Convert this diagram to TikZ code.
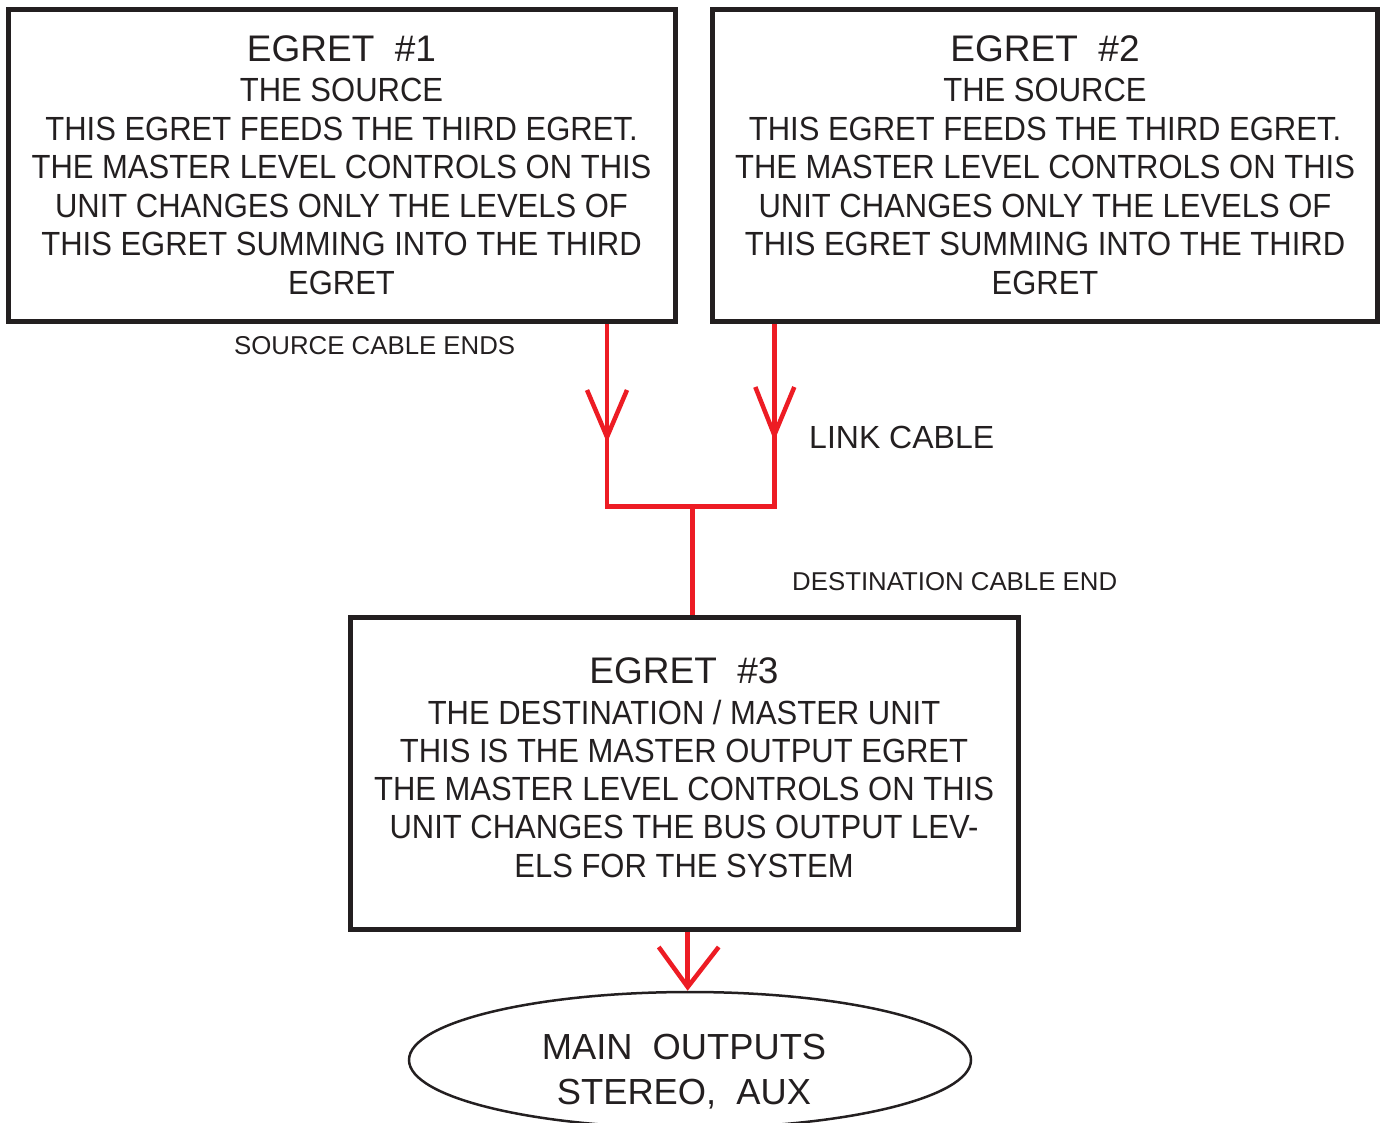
\documentclass[tikz,border=0pt]{standalone}
\usepackage{fontspec}
\setmainfont{Liberation Sans}
\newfontfamily\bodyf[FakeStretch=0.925]{Liberation Sans}
\usetikzlibrary{shapes.geometric,calc}
\definecolor{ink}{HTML}{231F20}
\definecolor{egred}{HTML}{ED1C24}
\begin{document}
\begin{tikzpicture}[x=1pt,y=-1pt,
  boxstyle/.style={draw=ink, line width=5pt, rectangle, inner sep=0pt, minimum width=#1, minimum height=312pt},
  redline/.style={draw=egred, line width=4.5pt, line join=miter},
  titletext/.style={font=\fontsize{37}{40}\selectfont, text=ink, inner sep=0pt, anchor=base},
  bodytext/.style={font=\bodyf\fontsize{33.5}{38}\selectfont, text=ink, inner sep=0pt, anchor=base},
  labeltext/.style={font=\fontsize{25.8}{28}\selectfont, text=ink, inner sep=0pt, anchor=base west},
  linktext/.style={font=\fontsize{32}{36}\selectfont, text=ink, inner sep=0pt, anchor=base west},
  outtext/.style={font=\fontsize{36.3}{40}\selectfont, text=ink, inner sep=0pt, anchor=base},
  ellstyle/.style={draw=ink, line width=2.5pt, ellipse, inner sep=0pt, minimum width=562pt, minimum height=136pt}
]
\useasboundingbox (0,0) rectangle (1383,1123);
\clip (0,0) rectangle (1383,1123);

% boxes
\node[boxstyle=666.5pt] (b1) at (341.75,165.5) {};
\node[boxstyle=665pt] (b2) at (1044.5,165.5) {};
\node[boxstyle=668pt, minimum height=312pt] (b3) at (684,773.5) {};

% box texts
\node[titletext] (b1t) at (341.5,62) {EGRET\ \ \#1};
\foreach \t [count=\i from 0] in {THE SOURCE,THIS EGRET FEEDS THE THIRD EGRET.,THE MASTER LEVEL CONTROLS ON THIS,UNIT CHANGES ONLY THE LEVELS OF,THIS EGRET SUMMING INTO THE THIRD,EGRET}
  \node[bodytext] (b1l\i) at (341.5,101.7+38.55*\i) {\t};

\node[titletext] (b2t) at (1045,62) {EGRET\ \ \#2};
\foreach \t [count=\i from 0] in {THE SOURCE,THIS EGRET FEEDS THE THIRD EGRET.,THE MASTER LEVEL CONTROLS ON THIS,UNIT CHANGES ONLY THE LEVELS OF,THIS EGRET SUMMING INTO THE THIRD,EGRET}
  \node[bodytext] (b2l\i) at (1045,101.7+38.55*\i) {\t};

\node[titletext] (b3t) at (684,683) {EGRET\ \ \#3};
\foreach \t [count=\i from 0] in {THE DESTINATION / MASTER UNIT,THIS IS THE MASTER OUTPUT EGRET,THE MASTER LEVEL CONTROLS ON THIS,UNIT CHANGES THE BUS OUTPUT LEV-,ELS FOR THE SYSTEM}
  \node[bodytext] (b3l\i) at (684,724+38.3*\i) {\t};

% labels
\node[labeltext] (lsrc) at (234,354.5) {SOURCE CABLE ENDS};
\node[linktext] (llink) at (809,448) {LINK CABLE};
\node[labeltext] (ldst) at (792,590) {DESTINATION CABLE END};

% ellipse
\node[ellstyle] (out) at (690,1060) {};
\node[outtext] (out1) at (684,1059) {MAIN\ \ OUTPUTS};
\node[outtext] (out2) at (684,1104) {STEREO,\ \ AUX};

% connectors
\coordinate (jL) at (607,506.5);
\coordinate (jR) at (774.3,506.5);
\coordinate (jM) at (692.7,506.5);
\coordinate (tL) at (607,437);
\coordinate (tR) at (774.3,435);
\coordinate (tB) at (687.7,987);
\draw[redline] (b1.south -| jL) -- (jL) -- (jR) -- (b2.south -| jR);
\draw[redline] (jM) -- (b3.north -| jM);
\draw[redline] ($(tL)+(-20,-47)$) -- (tL) -- ++(20,-47);
\draw[redline] ($(tR)+(-19,-48)$) -- (tR) -- ++(20,-48);
\draw[redline] (b3.south -| tB) -- (tB);
\draw[redline] ($(tB)+(-29,-40)$) -- (tB) -- ++(31,-40);
\end{tikzpicture}
\end{document}
